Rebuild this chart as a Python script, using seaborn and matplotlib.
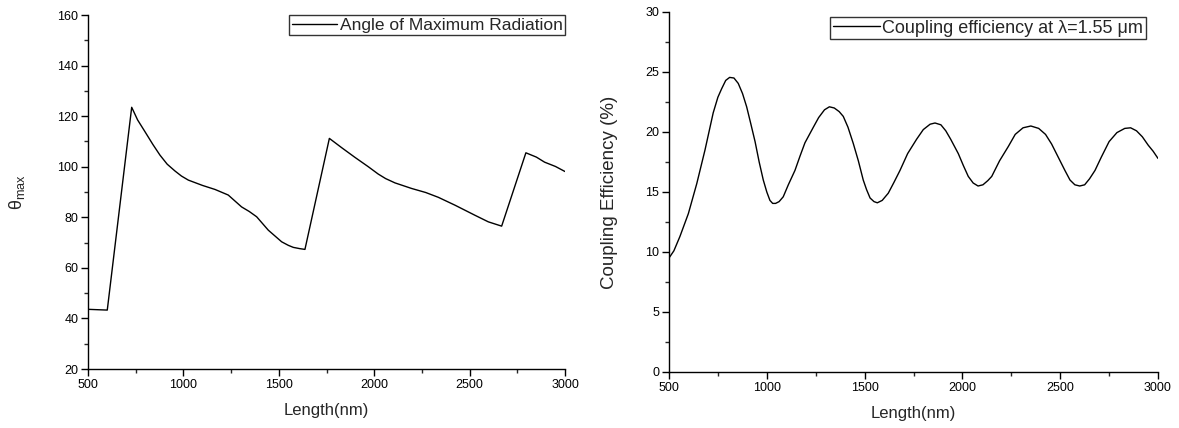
import matplotlib
matplotlib.use("Agg")
import matplotlib.pyplot as plt
import seaborn as sns
from matplotlib.ticker import MultipleLocator

# ---- data: angle of maximum radiation (left panel) ----
len_angle = [500, 601, 729, 760, 799, 840, 877, 915, 956, 990, 1026, 1100, 1166,
             1235, 1305, 1345, 1384, 1445, 1515, 1550, 1576, 1610, 1637, 1765,
             1830, 1899, 1969, 2021, 2060, 2109, 2196, 2270, 2336, 2423, 2528,
             2598, 2668, 2795, 2850, 2893, 2950, 3000]
theta_max = [43.6, 43.3, 123.5, 118.5, 113.8, 108.8, 104.6, 101.0, 98.3, 96.3,
             94.7, 92.6, 91.0, 88.8, 84.1, 82.3, 80.2, 74.9, 70.3, 68.9, 68.1,
             67.6, 67.3, 111.2, 107.5, 103.7, 100.0, 97.1, 95.3, 93.6, 91.4, 89.8,
             87.9, 84.8, 80.8, 78.2, 76.5, 105.5, 103.8, 101.8, 100.1, 98.1]

# ---- data: coupling efficiency (right panel) ----
len_ce = [500, 525, 556, 599, 642, 684, 726, 750, 769, 790, 810, 832, 854, 876,
          897, 918, 940, 961, 982, 1000, 1016, 1030, 1045, 1063, 1084, 1110, 1144,
          1170, 1195, 1238, 1265, 1295, 1320, 1345, 1370, 1391, 1415, 1442, 1468,
          1493, 1510, 1528, 1548, 1565, 1590, 1621, 1650, 1681, 1720, 1766, 1800,
          1835, 1860, 1890, 1915, 1940, 1979, 2005, 2030, 2055, 2080, 2105, 2130,
          2150, 2190, 2235, 2270, 2310, 2350, 2390, 2425, 2456, 2490, 2524, 2550,
          2575, 2600, 2625, 2650, 2678, 2710, 2750, 2790, 2830, 2860, 2890, 2920,
          2950, 2975, 3000]
coupling = [9.5, 10.1, 11.3, 13.2, 15.7, 18.5, 21.6, 22.9, 23.6, 24.3, 24.55, 24.5,
            24.05, 23.2, 22.1, 20.7, 19.2, 17.5, 16.0, 15.0, 14.3, 14.05, 14.05,
            14.2, 14.6, 15.6, 16.8, 18.0, 19.1, 20.4, 21.2, 21.85, 22.1, 22.0, 21.7,
            21.3, 20.4, 19.05, 17.6, 16.0, 15.2, 14.5, 14.2, 14.1, 14.3, 14.9, 15.8,
            16.8, 18.2, 19.4, 20.2, 20.65, 20.75, 20.6, 20.1, 19.4, 18.2, 17.2, 16.3,
            15.75, 15.5, 15.6, 15.95, 16.3, 17.6, 18.8, 19.8, 20.35, 20.5, 20.3,
            19.8, 19.0, 17.9, 16.8, 16.0, 15.6, 15.5, 15.6, 16.1, 16.8, 17.9, 19.2,
            19.95, 20.3, 20.35, 20.1, 19.6, 18.9, 18.4, 17.8]

xlabel = "Length(nm)"
ylabel_left = r"$\mathregular{\theta_{max}}$"
ylabel_right = "Coupling Efficiency (%)"
legend_left = "Angle of Maximum Radiation"
legend_right = "Coupling efficiency at \u03bb=1.55 \u03bcm"

sns.set_style("ticks")
plt.rcParams["font.family"] = ["Liberation Sans", "DejaVu Sans"]
plt.rcParams["mathtext.fontset"] = "custom"
plt.rcParams["mathtext.rm"] = "Liberation Sans"
plt.rcParams["mathtext.it"] = "Liberation Sans"

fig = plt.figure(figsize=(11.79, 4.28), dpi=100)
ax1 = fig.add_axes([88/1179, 1 - 369/428, (565-88)/1179, (369-15)/428])
ax2 = fig.add_axes([669/1179, 1 - 372/428, (1158-669)/1179, (372-12)/428])

sns.lineplot(x=len_angle, y=theta_max, ax=ax1, color="black", lw=1.0,
             label=legend_left)
sns.lineplot(x=len_ce, y=coupling, ax=ax2, color="black", lw=1.0,
             label=legend_right)

for ax in (ax1, ax2):
    ax.set_xlim(500, 3000)
    ax.xaxis.set_major_locator(MultipleLocator(500))
    ax.xaxis.set_minor_locator(MultipleLocator(250))
    ax.tick_params(which="major", direction="out", length=5, width=1,
                   labelsize=9, colors="black", pad=2)
    ax.tick_params(which="minor", direction="out", length=3, width=1)
    for s in ("top", "right"):
        ax.spines[s].set_visible(False)
    for s in ("left", "bottom"):
        ax.spines[s].set_linewidth(1.0)
        ax.spines[s].set_color("black")
    ax.set_xlabel(xlabel, fontsize=12, labelpad=9)

ax1.set_ylim(20, 160)
ax1.yaxis.set_major_locator(MultipleLocator(20))
ax1.yaxis.set_minor_locator(MultipleLocator(10))
ax1.set_ylabel(ylabel_left, fontsize=13, labelpad=22)

ax2.set_ylim(0, 30)
ax2.yaxis.set_major_locator(MultipleLocator(5))
ax2.yaxis.set_minor_locator(MultipleLocator(2.5))
ax2.set_ylabel(ylabel_right, fontsize=13.5, labelpad=20)

leg_kw = dict(frameon=True, fancybox=False, shadow=False, borderpad=0.15,
              handlelength=2.6, handletextpad=0.15, borderaxespad=0)
l1 = ax1.legend(loc="upper right", bbox_to_anchor=(1.0, 1.0), fontsize=12.5,
                **leg_kw)
l2 = ax2.legend(loc="upper right", bbox_to_anchor=(0.9755, 0.986), fontsize=13,
                **leg_kw)
for lg in (l1, l2):
    fr = lg.get_frame()
    fr.set_edgecolor("black")
    fr.set_linewidth(1.0)
    fr.set_boxstyle("square", pad=0)

fig.savefig("out.png", dpi=100)
